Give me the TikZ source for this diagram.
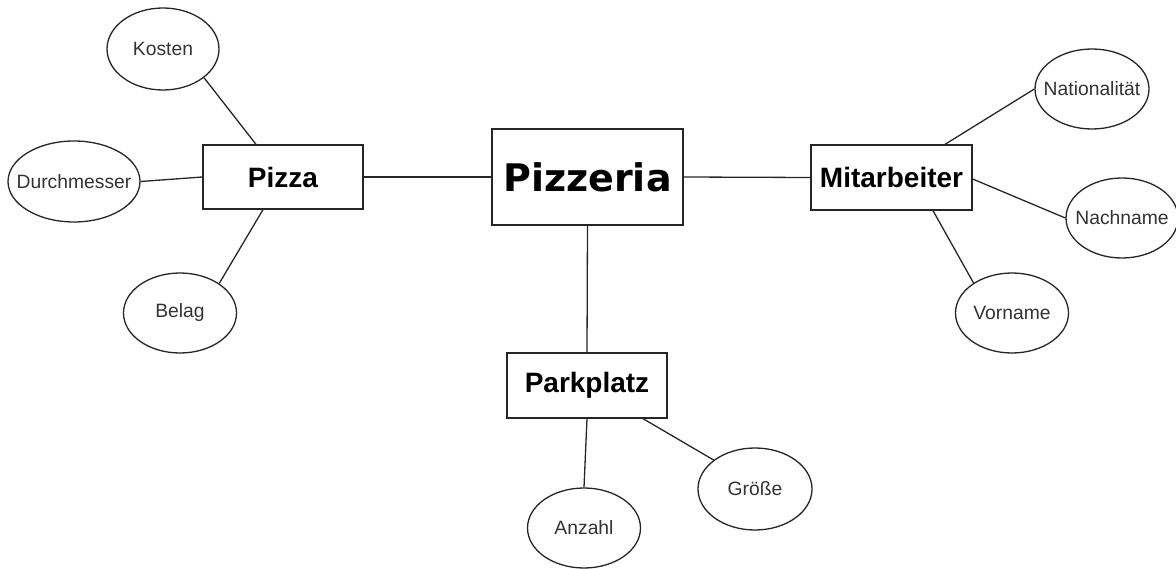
\documentclass[tikz,border=0pt]{standalone}
\usepackage{fontspec}
\setmainfont{Liberation Sans}
\newfontfamily\dejavu{DejaVu Sans}
\usetikzlibrary{shapes.geometric}
\tikzset{
  conn/.style={draw=black!85, line width=1.3pt},
  entity/.style={draw=black!85, line width=1.3pt, fill=white, rectangle, inner sep=0pt,
    font=\fontsize{28}{32}\selectfont\bfseries},
  attr/.style={draw=black!85, line width=1.3pt, fill=white, ellipse, inner sep=0pt,
    minimum width=114pt, minimum height=80pt, text=black!80,
    font=\fontsize{19.3}{23}\selectfont},
}
\newcommand{\lbl}[1]{\makebox[0pt]{#1}}
\begin{document}
\begin{tikzpicture}[x=1pt,y=-1pt]
\useasboundingbox (0,0) rectangle (1176,569);
% entities
\node[entity, minimum width=191pt, minimum height=96pt, font=\dejavu\fontsize{38}{42}\selectfont\bfseries] (pizzeria) at (587.5,177) {Pizzeria};
\node[entity, minimum width=160pt, minimum height=64pt] (pizza) at (283,177) {Pizza};
\node[entity, minimum width=161pt, minimum height=65pt] (mitarbeiter) at (891.5,177.5) {Mitarbeiter};
\node[entity, minimum width=160pt, minimum height=65pt] (parkplatz) at (587,385.5) {Parkplatz};
% attributes
\node[attr, minimum width=112pt, minimum height=82pt] (kosten) at (163,49) {\lbl{Kosten}};
\node[attr, minimum width=132pt, minimum height=81pt] (durch) at (74,181.5) {\lbl{Durchmesser}};
\node[attr, minimum width=113pt] (belag) at (180,313) {\lbl{Belag}};
\node[attr] (national) at (1092,89) {\lbl{Nationalität}};
\node[attr, minimum width=112pt] (nachname) at (1122,218) {\lbl{Nachname}};
\node[attr, minimum width=113pt] (vorname) at (1012,313) {\lbl{Vorname}};
\node[attr, minimum height=82pt] (groesse) at (755,489) {\lbl{Größe}};
\node[attr, minimum width=113pt] (anzahl) at (584,528) {\lbl{Anzahl}};
% connectors
\draw[conn] (pizza.east) -- (pizzeria.west);
\draw[conn] (pizzeria.east) -- (mitarbeiter.west);
\draw[conn] (pizzeria.south) -- (parkplatz.north);
\draw[conn] (kosten.-35) -- ([xshift=-27pt]pizza.north);
\draw[conn] (durch.east) -- (pizza.west);
\draw[conn] (belag.37) -- ([xshift=-20pt]pizza.south);
\draw[conn] (national.west) -- ([xshift=53.5pt]mitarbeiter.north);
\draw[conn] (nachname.west) -- ([yshift=-1.5pt]mitarbeiter.east);
\draw[conn] (vorname.142) -- ([xshift=41.5pt]mitarbeiter.south);
\draw[conn] (anzahl.north) -- (parkplatz.south);
\draw[conn] (groesse.145) -- ([xshift=56pt]parkplatz.south);
\end{tikzpicture}
\end{document}
